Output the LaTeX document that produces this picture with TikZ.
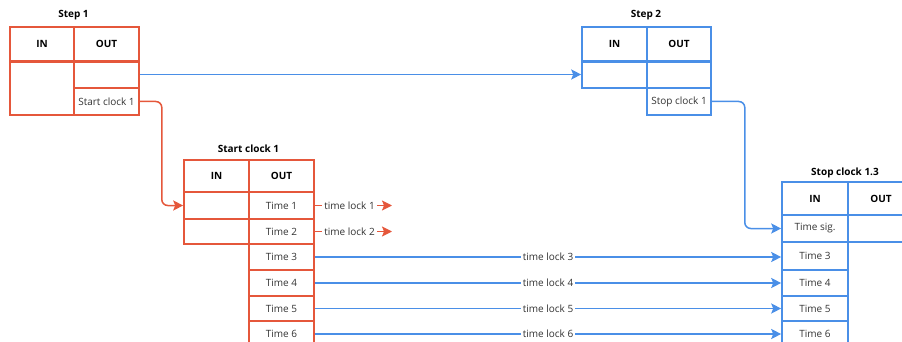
\documentclass[tikz,border=0pt]{standalone}
\usepackage{fontspec}
\setmainfont{Open Sans}
\usepackage{tikz}
\usetikzlibrary{arrows.meta}
\definecolor{redline}{HTML}{E5573B}
\definecolor{blueline}{HTML}{4A8FE7}
\definecolor{textgray}{HTML}{333333}

\begin{document}
\begin{tikzpicture}[x=1pt, y=-1pt,
    cell/.style={draw, rectangle, line width=1.6pt, inner sep=0pt, text=textgray,
      font=\fontsize{10}{12}\selectfont},
    head/.style={cell, font=\fontsize{10}{12}\selectfont\bfseries, text=black},
    title/.style={font=\fontsize{10}{12}\selectfont\bfseries},
    wire/.style={line width=1.5pt, -{Stealth[length=10pt, width=10pt, inset=2pt]}},
    lock/.style={fill=white, inner sep=2pt, text=textgray, font=\fontsize{10}{12}\selectfont}]
    \useasboundingbox (0,0) rectangle (902,342);

    % Step 1
    \node[title] (stepa) at (73.5, 15) {Step 1};
    \node[head, draw=redline, minimum width=64pt, minimum height=34pt] (stepain) at (42, 44) {IN};
    \node[head, draw=redline, minimum width=65pt, minimum height=34pt] (stepaout) at (106.5, 44) {OUT};
    \node[cell, draw=redline, minimum width=64pt, minimum height=54pt] (stepainrow) at (42, 88) {};
    \node[cell, draw=redline, minimum width=65pt, minimum height=27pt] (stepaoutrow) at (106.5, 74.5) {};
    \node[cell, draw=redline, minimum width=65pt, minimum height=27pt] (stepaclock) at (106.5, 101.5) {Start clock 1};
    \draw[redline, line width=3.2pt] (stepain.south west) -- (stepaout.south east);

    % Step 2
    \node[title] (stepb) at (646, 15) {Step 2};
    \node[head, draw=blueline, minimum width=65pt, minimum height=34pt] (stepbin) at (614.5, 44) {IN};
    \node[head, draw=blueline, minimum width=64pt, minimum height=34pt] (stepbout) at (679, 44) {OUT};
    \node[cell, draw=blueline, minimum width=65pt, minimum height=27pt] (stepbinrow) at (614.5, 74.5) {};
    \node[cell, draw=blueline, minimum width=64pt, minimum height=27pt] (stepboutrow) at (679, 74.5) {};
    \node[cell, draw=blueline, minimum width=64pt, minimum height=27pt] (stepbclock) at (679, 101.5) {Stop clock 1};
    \draw[blueline, line width=3.2pt] (stepbin.south west) -- (stepbout.south east);

    % Start clock 1
    \node[title] (start) at (248.5, 149) {Start clock 1};
    \node[head, draw=redline, minimum width=65pt, minimum height=32pt] (startin) at (216.5, 176) {IN};
    \node[head, draw=redline, minimum width=65pt, minimum height=32pt] (startout) at (281.5, 176) {OUT};
    \node[cell, draw=redline, minimum width=65pt, minimum height=27pt] (startina) at (216.5, 205.5) {};
    \node[cell, draw=redline, minimum width=65pt, minimum height=25pt] (startinb) at (216.5, 231.5) {};
    \node[cell, draw=redline, minimum width=65pt, minimum height=27pt] (timea) at (281.5, 205.5) {Time 1};
    \node[cell, draw=redline, minimum width=65pt, minimum height=25pt] (timeb) at (281.5, 231.5) {Time 2};
    \node[cell, draw=redline, minimum width=65pt, minimum height=26pt] (timec) at (281.5, 257) {Time 3};
    \node[cell, draw=redline, minimum width=65pt, minimum height=26pt] (timed) at (281.5, 283) {Time 4};
    \node[cell, draw=redline, minimum width=65pt, minimum height=25pt] (timee) at (281.5, 308.5) {Time 5};
    \node[cell, draw=redline, minimum width=65pt, minimum height=26pt] (timef) at (281.5, 334) {Time 6};

    % Stop clock 1.3
    \node[title] (stop) at (845, 173) {Stop clock 1.3};
    \node[head, draw=blueline, minimum width=66pt, minimum height=33pt] (stopin) at (815, 198.5) {IN};
    \node[head, draw=blueline, minimum width=66pt, minimum height=33pt] (stopout) at (881, 198.5) {OUT};
    \node[cell, draw=blueline, minimum width=66pt, minimum height=27pt] (stopsig) at (815, 228.5) {Time sig.};
    \node[cell, draw=blueline, minimum width=66pt, minimum height=27pt] (stopoutrow) at (881, 228.5) {};
    \node[cell, draw=blueline, minimum width=66pt, minimum height=28pt] (stopc) at (815, 256) {Time 3};
    \node[cell, draw=blueline, minimum width=66pt, minimum height=26pt] (stopd) at (815, 283) {Time 4};
    \node[cell, draw=blueline, minimum width=66pt, minimum height=25pt] (stope) at (815, 308.5) {Time 5};
    \node[cell, draw=blueline, minimum width=66pt, minimum height=26pt] (stopf) at (815, 334) {Time 6};

    % connectors
    \coordinate (loska) at (392, 205.5);
    \coordinate (loskb) at (392, 231.5);
    \draw[wire, blueline] (stepaoutrow.east) -- (stepbinrow.west);
    \draw[wire, redline, rounded corners=6pt] (stepaclock.east) -- ++(22,0) |- (startina.west);
    \draw[wire, blueline, rounded corners=6pt] (stepbclock.east) -- ++(33,0) |- (stopsig.west);
    \draw[wire, redline] (timea.east) -- node[lock, pos=0.45] {time lock 1} (loska);
    \draw[wire, redline] (timeb.east) -- node[lock, pos=0.45] {time lock 2} (loskb);
    \draw[wire, blueline] (timec.east) -- node[lock] {time lock 3} (timec.east -| stopc.west);
    \draw[wire, blueline] (timed.east) -- node[lock] {time lock 4} (stopd.west);
    \draw[wire, blueline] (timee.east) -- node[lock] {time lock 5} (stope.west);
    \draw[wire, blueline] (timef.east) -- node[lock] {time lock 6} (stopf.west);
\end{tikzpicture}
\end{document}
